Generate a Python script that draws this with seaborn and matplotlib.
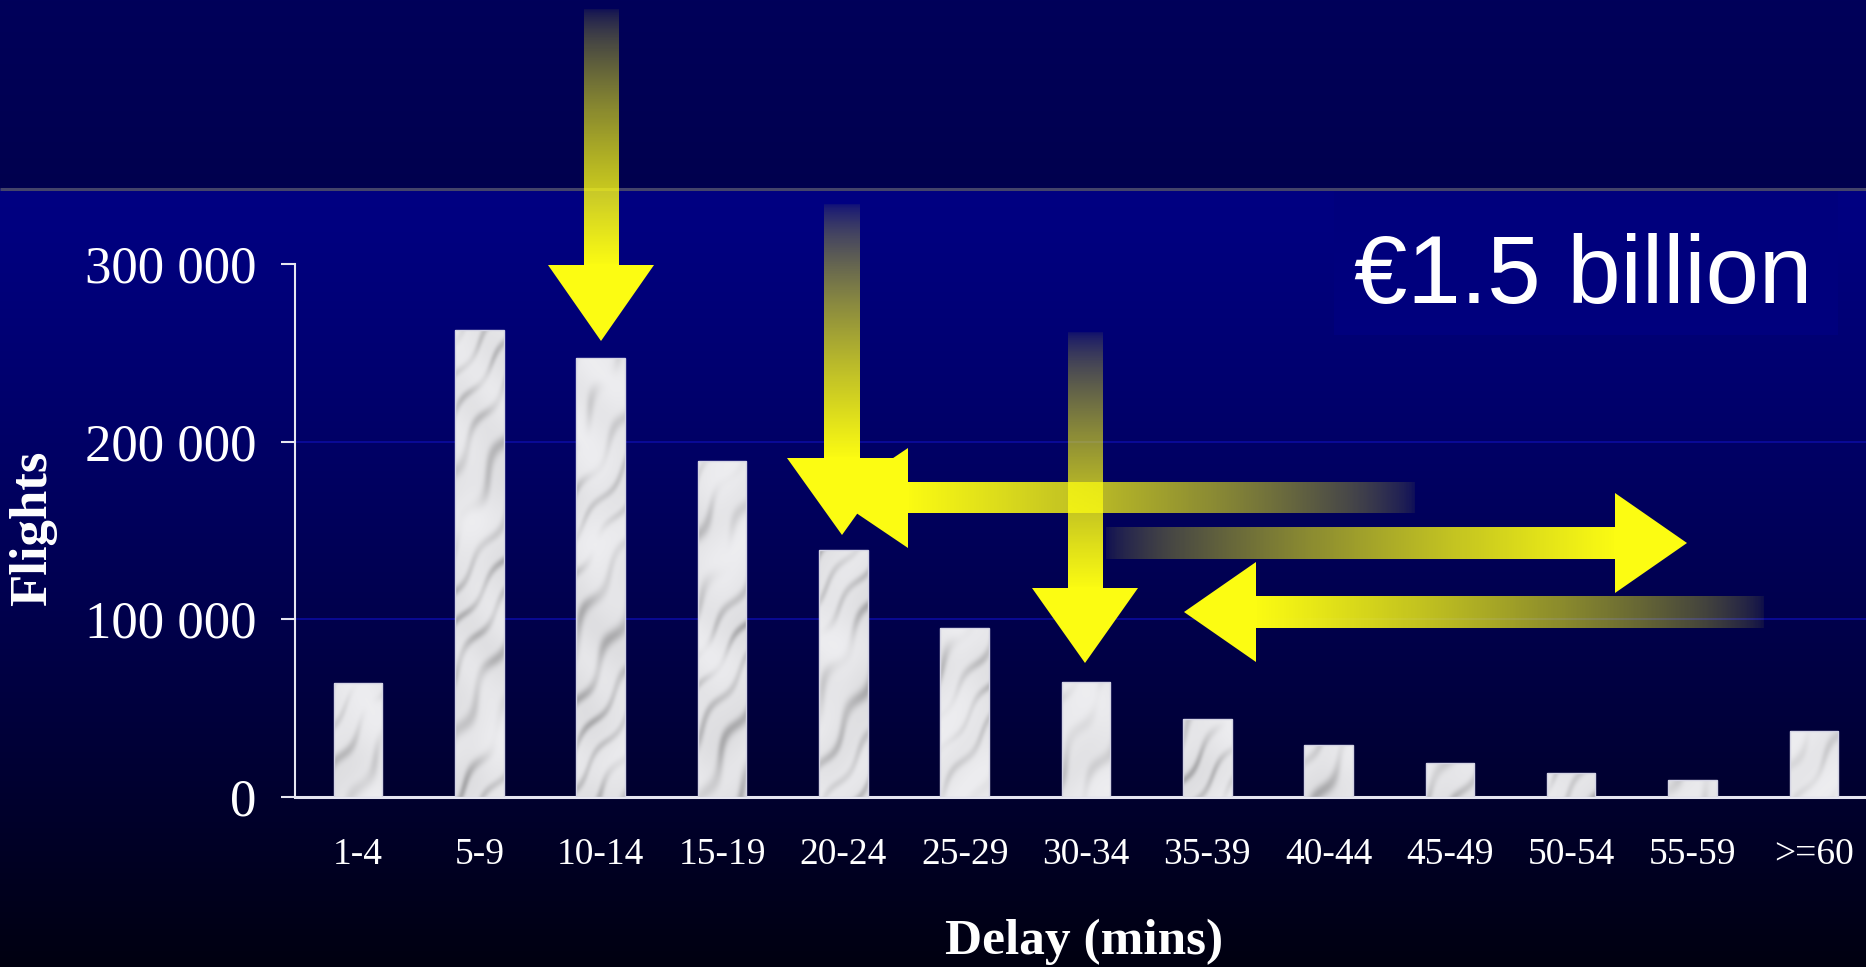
import numpy as np
import pandas as pd
import matplotlib
matplotlib.use("Agg")
import matplotlib.pyplot as plt
import seaborn as sns
from matplotlib.patches import Polygon, Rectangle

# ---- data -------------------------------------------------------------
delay_bins = ["1-4", "5-9", "10-14", "15-19", "20-24", "25-29", "30-34",
              "35-39", "40-44", "45-49", "50-54", "55-59", ">=60"]
flights = [64000, 263000, 247000, 189000, 139000, 95000, 65000,
           44000, 29000, 19000, 13500, 9500, 37000]
y_ticks = [0, 100000, 200000, 300000]
y_tick_labels = ["0", "100 000", "200 000", "300 000"]
headline = "€1.5 billion"

# ---- canvas -----------------------------------------------------------
W, H, DPI = 1866, 967, 100
sns.set_theme(style="white")
plt.rcParams["font.family"] = ["Liberation Serif", "DejaVu Serif"]

fig = plt.figure(figsize=(W / DPI, H / DPI), dpi=DPI)
fig.patch.set_facecolor("#000050")

# slide background: dark title band, thin rule, then a blue-to-black fade
bg = fig.add_axes([0, 0, 1, 1], zorder=-10)
bg.set_xlim(0, W)
bg.set_ylim(H, 0)
bg.axis("off")
rows = np.arange(H)
grad = np.zeros((H, 1, 3))
band = rows < 189
grad[band, 0, 2] = np.interp(rows[band], [0, 189], [0x5a, 0x4e]) / 255
body = ~band
t = (rows[body] - 189) / (H - 189)
grad[body, 0, 2] = (0x82 + (0x10 - 0x82) * t ** 1.25) / 255
bg.imshow(grad, extent=(0, W, H, 0), origin="upper", aspect="auto",
          interpolation="nearest")
bg.plot([0, W], [189, 189], color="#44446a", lw=2.2, solid_capstyle="butt")
bg.add_patch(Rectangle((1334, 191), 1838 - 1334, 335 - 191,
                       facecolor="#00007d", edgecolor="none"))
bg.set_xlim(0, W)
bg.set_ylim(H, 0)

# ---- bar chart --------------------------------------------------------
ax = fig.add_axes([295 / W, (H - 797) / H, (W - 295) / W, (797 - 264) / H])
ax.set_facecolor("none")
df = pd.DataFrame({"delay": delay_bins, "flights": flights})
sns.barplot(data=df, x="delay", y="flights", color="#e6e6ea", width=0.4,
            saturation=1, errorbar=None, ax=ax, edgecolor="#d4d4e4",
            linewidth=1.0, zorder=3)

XL = (-0.52, 12.43)
YL = (0, 300000)

# soft grey marble texture for the bars (diagonal smudges)
th, tw = 540, 1580
yy, xx = np.mgrid[0:th, 0:tw].astype(float)
u = (xx + 0.6 * yy) / 5.0 + 1.8 * np.sin(yy / 37.0 + xx / 53.0) \
    + 0.9 * np.sin(xx / 11.0 - yy / 19.0)
streak = (0.5 + 0.5 * np.sin(u)) ** 4
m = 0.5 + 0.5 * np.sin(xx / 23.0 + 1.7 * np.sin(yy / 41.0)) \
    * np.cos(yy / 29.0 - 0.8 * np.cos(xx / 17.0))
v = 0.93 - 0.20 * streak * m - 0.06 * m
tex = np.clip(np.dstack([v, v, v * 1.012]), 0, 1)

for bar in list(ax.patches):
    im = ax.imshow(tex, extent=(XL[0], XL[1], YL[0], YL[1]), origin="upper",
                   aspect="auto", interpolation="bilinear", zorder=3.2)
    im.set_clip_path(bar)
    bar.set_facecolor("none")
    bar.set_zorder(3.4)

ax.set_xlim(*XL)
ax.set_ylim(*YL)

for yv in y_ticks[1:-1]:
    ax.axhline(yv, color="#0c0ca0", lw=1.2, zorder=1)

sns.despine(ax=ax, top=True, right=True)
ax.spines["left"].set_color("#e6e6f0")
ax.spines["left"].set_linewidth(1.5)
ax.spines["left"].set_bounds(*YL)
ax.spines["bottom"].set_color("#e6e6f0")
ax.spines["bottom"].set_linewidth(2.2)

ax.set_yticks(y_ticks, y_tick_labels)
ax.tick_params(axis="y", left=True, direction="out", length=10, width=1.5,
               color="#e6e6f0", pad=18, labelsize=38, labelcolor="white")
ax.tick_params(axis="x", bottom=False, length=0, pad=29, labelsize=27,
               labelcolor="white")

ax.set_xlabel("Delay (mins)", fontsize=37, fontweight="bold", color="white")
ax.xaxis.set_label_coords(0.502, -0.295)
ax.xaxis.label.set_va("baseline")
ax.set_ylabel("Flights", fontsize=38, fontweight="bold", color="white")
ax.yaxis.set_label_coords(-0.1668, 0.505)
ax.yaxis.label.set_va("center")

fig.text(1583 / W, 1 - 303 / H, headline, family=["Liberation Sans", "DejaVu Sans"],
         fontsize=69, color="white", ha="center", va="baseline")

# ---- yellow fading arrows --------------------------------------------
ov = fig.add_axes([0, 0, 1, 1], zorder=10)
ov.axis("off")
ov.set_xlim(0, W)
ov.set_ylim(H, 0)

YELLOW = np.array([252, 252, 18]) / 255
N = 400


def ramp(n):
    s = np.linspace(0, 1, n)
    return 0.06 + 0.94 * s ** 0.7   # faint at the tail, solid at the head


def strip(alpha, vertical):
    img = np.zeros((len(alpha), 1, 4) if vertical else (1, len(alpha), 4))
    img[..., :3] = YELLOW
    if vertical:
        img[:, 0, 3] = alpha
    else:
        img[0, :, 3] = alpha
    return img


def down_arrow(xc, y_tail, y_base, y_tip, sw, hw, z):
    ov.imshow(strip(ramp(N), True), extent=(xc - sw / 2, xc + sw / 2, y_base, y_tail),
              origin="upper", aspect="auto", interpolation="nearest", zorder=z)
    ov.add_patch(Polygon([(xc - hw, y_base), (xc + hw, y_base), (xc, y_tip)],
                         closed=True, facecolor=YELLOW, edgecolor="none", zorder=z))


def side_arrow(yc, x_tail, x_base, x_tip, sh, hh, z):
    if x_tip < x_base:      # points left, tail on the right
        alpha = ramp(N)[::-1]
        ext = (x_base, x_tail, yc + sh / 2, yc - sh / 2)
    else:                   # points right, tail on the left
        alpha = ramp(N)
        ext = (x_tail, x_base, yc + sh / 2, yc - sh / 2)
    ov.imshow(strip(alpha, False), extent=ext, origin="upper", aspect="auto",
              interpolation="nearest", zorder=z)
    ov.add_patch(Polygon([(x_base, yc - hh), (x_base, yc + hh), (x_tip, yc)],
                         closed=True, facecolor=YELLOW, edgecolor="none", zorder=z))


down_arrow(601, 9, 265, 341, 35, 53, 1)
down_arrow(842, 204, 458, 535, 36, 55, 2)
down_arrow(1085, 332, 588, 663, 35, 53, 3)
side_arrow(498, 1415, 908, 834, 31, 50, 4)
side_arrow(543, 1106, 1615, 1687, 32, 50, 5)
side_arrow(612, 1764, 1256, 1184, 32, 50, 6)

ov.set_xlim(0, W)
ov.set_ylim(H, 0)

fig.savefig("out.png", dpi=DPI, facecolor=fig.get_facecolor())
